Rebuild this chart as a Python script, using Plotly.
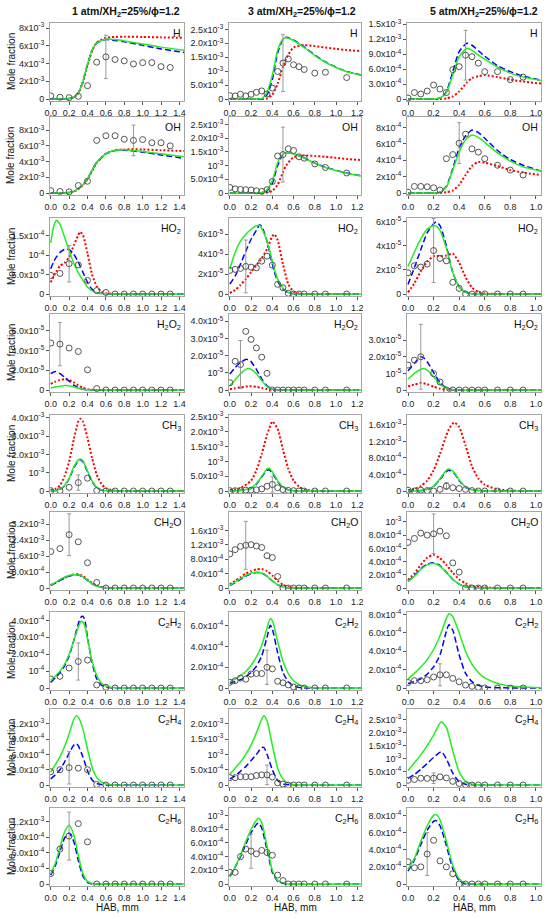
import plotly.graph_objects as go

# ---- layout in pixels (figure is 550 x 919) ----
FIG_W, FIG_H = 550, 919
COL_PX = [(50, 184), (229, 361), (407, 541)]
ROW_TOP_PX = [23, 117, 218, 314, 415, 512, 612, 709, 808]
ROW_H_PX = 78

col_titles = ["1 atm/XH<sub>2</sub>=25%/ϕ=1.2",
              "3 atm/XH<sub>2</sub>=25%/ϕ=1.2",
              "5 atm/XH<sub>2</sub>=25%/ϕ=1.2"]
species = ["H", "OH", "HO<sub>2</sub>", "H<sub>2</sub>O<sub>2</sub>", "CH<sub>3</sub>",
           "CH<sub>2</sub>O", "C<sub>2</sub>H<sub>2</sub>", "C<sub>2</sub>H<sub>4</sub>",
           "C<sub>2</sub>H<sub>6</sub>"]
x_max = [1.45, 1.235, 1.04]
x_ticks = [[0.0, 0.2, 0.4, 0.6, 0.8, 1.0, 1.2, 1.4],
           [0.0, 0.2, 0.4, 0.6, 0.8, 1.0, 1.2],
           [0.0, 0.2, 0.4, 0.6, 0.8, 1.0]]

# experimental HAB positions (mm)
exp_x_1atm = [0.0, 0.1, 0.2, 0.3, 0.4, 0.5, 0.6, 0.7, 0.8, 0.9, 1.0, 1.1, 1.2, 1.3]
exp_x_3atm = [0.0, 0.05, 0.1, 0.15, 0.2, 0.25, 0.3, 0.35, 0.4, 0.45, 0.5, 0.55, 0.6, 0.65, 0.7, 0.8, 0.9, 1.1]
exp_x_5atm = [0.0, 0.05, 0.1, 0.15, 0.2, 0.25, 0.3, 0.35, 0.4, 0.45, 0.5, 0.55, 0.6, 0.7, 0.8, 0.9]

# ================= 1 atm =================
h1_mx = [0, 0.1, 0.2, 0.25, 0.3, 0.35, 0.4, 0.45, 0.5, 0.6, 0.7, 0.8, 1.0, 1.2, 1.45]
h1_green = [0, 0, 0.05, 0.2, 0.7, 2.0, 3.9, 5.5, 6.3, 6.75, 6.7, 6.55, 6.2, 5.85, 5.5]
h1_blue = [0, 0, 0.05, 0.2, 0.7, 2.0, 3.9, 5.5, 6.3, 6.7, 6.6, 6.45, 6.05, 5.65, 5.25]
h1_red = [0, 0, 0.04, 0.18, 0.65, 1.9, 3.8, 5.4, 6.35, 6.9, 7.0, 7.02, 7.0, 6.95, 6.9]
h1_exp = [0.35, 0.2, 0.15, 0.3, 1.5, 4.15, 4.75, 4.45, 4.3, 3.95, 4.1, 4.1, 3.65, 3.55]
h1_err = (0.6, 2.45)

oh1_mx = h1_mx
oh1_green = [0, 0, 0.05, 0.2, 0.55, 1.05, 1.8, 2.9, 3.9, 5.0, 5.45, 5.5, 5.3, 5.0, 4.6]
oh1_blue = [0, 0, 0.05, 0.2, 0.55, 1.05, 1.8, 2.9, 3.9, 5.0, 5.4, 5.45, 5.2, 4.85, 4.4]
oh1_red = [0, 0, 0.04, 0.18, 0.5, 1.0, 1.75, 2.8, 3.85, 5.0, 5.45, 5.55, 5.55, 5.45, 5.35]
oh1_exp = [0.3, 0.2, 0.15, 0.95, 1.5, 6.7, 7.3, 7.3, 6.85, 6.7, 6.8, 6.4, 6.4, 6.0]
oh1_err = (0.9, 1.95)

ho2_1_mx = [0, 0.03, 0.06, 0.1, 0.15, 0.2, 0.25, 0.3, 0.32, 0.35, 0.4, 0.45, 0.5, 0.55, 0.6, 0.7, 1.45]
ho2_1_green = [1.32, 1.72, 1.9, 1.8, 1.47, 1.12, 0.8, 0.55, 0.47, 0.35, 0.18, 0.08, 0.03, 0.01, 0.005, 0, 0]
ho2_1_blue = [0.65, 0.82, 0.95, 1.07, 1.15, 1.15, 1.03, 0.82, 0.72, 0.56, 0.3, 0.12, 0.04, 0.01, 0.005, 0, 0]
ho2_1_red = [0.3, 0.45, 0.58, 0.72, 0.8, 0.95, 1.25, 1.52, 1.6, 1.52, 1.05, 0.5, 0.2, 0.06, 0.02, 0, 0]
ho2_1_exp = [0.48, 0.53, 0.78, 0.75, 0.35, 0.09, 0.04, 0, 0, 0, 0, 0, 0, 0]
ho2_1_err = (0.2, 0.47)

h2o2_1_mx = [0, 0.05, 0.1, 0.15, 0.2, 0.25, 0.3, 0.35, 0.4, 0.45, 0.5, 1.45]
h2o2_1_green = [0.2, 0.3, 0.38, 0.45, 0.42, 0.32, 0.17, 0.07, 0.02, 0.005, 0, 0]
h2o2_1_blue = [1.65, 1.87, 1.65, 1.3, 0.9, 0.5, 0.22, 0.07, 0.015, 0, 0, 0]
h2o2_1_red = [0.62, 0.85, 1.0, 1.1, 1.02, 0.78, 0.47, 0.22, 0.07, 0.015, 0, 0]
h2o2_1_exp = [4.75, 4.65, 4.25, 3.9, 2.05, 0.15, 0, 0, 0, 0, 0, 0, 0, 0]
h2o2_1_err = (0.1, 2.2)

ch3_1_mx = [0, 0.05, 0.1, 0.15, 0.2, 0.25, 0.3, 0.32, 0.35, 0.4, 0.45, 0.5, 0.55, 0.6, 0.7, 0.8, 1.45]
ch3_1_red = [0.05, 0.12, 0.3, 0.8, 1.6, 2.8, 3.8, 3.95, 3.8, 2.9, 1.8, 0.9, 0.4, 0.15, 0.02, 0, 0]
ch3_1_green = [0, 0.02, 0.1, 0.3, 0.7, 1.3, 1.7, 1.75, 1.65, 1.1, 0.55, 0.2, 0.06, 0.01, 0, 0, 0]
ch3_1_blue = [0, 0.02, 0.09, 0.28, 0.67, 1.25, 1.65, 1.7, 1.6, 1.05, 0.5, 0.18, 0.05, 0.01, 0, 0, 0]
ch3_1_exp = [0.02, 0.02, 0.2, 0.46, 0.7, 0.02, 0, 0, 0, 0, 0, 0, 0, 0]
ch3_1_err = (0.3, 0.42)

ch2o_1_mx = [0, 0.05, 0.1, 0.15, 0.2, 0.25, 0.28, 0.3, 0.35, 0.4, 0.45, 0.5, 0.55, 0.6, 0.7, 1.45]
ch2o_1_green = [0.15, 0.28, 0.42, 0.55, 0.63, 0.66, 0.67, 0.66, 0.56, 0.39, 0.22, 0.1, 0.04, 0.01, 0, 0]
ch2o_1_blue = [0.13, 0.25, 0.38, 0.5, 0.6, 0.65, 0.66, 0.65, 0.55, 0.38, 0.21, 0.1, 0.04, 0.01, 0, 0]
ch2o_1_red = [0.14, 0.26, 0.39, 0.52, 0.61, 0.68, 0.7, 0.69, 0.6, 0.43, 0.25, 0.12, 0.05, 0.015, 0, 0]
ch2o_1_exp = [1.83, 1.98, 2.68, 2.32, 1.27, 0.28, 0, 0, 0, 0, 0, 0, 0, 0]
ch2o_1_err = (0.2, 1.05)

c2h2_1_mx = [0, 0.05, 0.1, 0.15, 0.2, 0.25, 0.3, 0.33, 0.35, 0.37, 0.4, 0.45, 0.5, 0.55, 0.6, 0.65, 0.7, 0.8, 1.45]
c2h2_1_green = [0.45, 0.7, 1.0, 1.4, 2.0, 2.8, 3.6, 3.95, 3.9, 3.7, 2.9, 1.6, 0.75, 0.3, 0.12, 0.04, 0.01, 0, 0]
c2h2_1_blue = [0.35, 0.6, 0.9, 1.3, 1.9, 2.8, 3.8, 4.2, 4.25, 4.05, 3.0, 1.5, 0.55, 0.18, 0.05, 0.01, 0, 0, 0]
c2h2_1_exp = [0.53, 0.69, 1.18, 1.57, 1.65, 0.18, 0.04, 0, 0, 0, 0, 0, 0, 0]
c2h2_1_err = (0.3, 1.1)

c2h4_1_mx = [0, 0.05, 0.1, 0.15, 0.2, 0.25, 0.28, 0.3, 0.35, 0.4, 0.45, 0.5, 0.55, 0.6, 0.7, 1.45]
c2h4_1_green = [0.25, 0.4, 0.55, 0.75, 1.0, 1.28, 1.36, 1.33, 1.1, 0.7, 0.35, 0.15, 0.06, 0.02, 0, 0]
c2h4_1_blue = [0.12, 0.2, 0.3, 0.45, 0.62, 0.78, 0.81, 0.77, 0.55, 0.28, 0.1, 0.03, 0.01, 0, 0, 0]
c2h4_1_exp = [0.26, 0.3, 0.34, 0.33, 0.3, 0.01, 0, 0, 0, 0, 0, 0, 0, 0]
c2h4_1_err = (0.2, 0.32)

c2h6_1_mx = [0, 0.05, 0.1, 0.15, 0.2, 0.25, 0.3, 0.35, 0.4, 0.45, 0.5, 1.45]
c2h6_1_green = [0.2, 0.4, 0.7, 1.0, 1.13, 0.95, 0.55, 0.2, 0.05, 0.01, 0, 0]
c2h6_1_blue = [0.17, 0.35, 0.62, 0.88, 0.98, 0.82, 0.45, 0.15, 0.03, 0, 0, 0]
c2h6_1_exp = [0.2, 0.67, 0.92, 1.16, 0.81, 0, 0, 0, 0, 0, 0, 0, 0, 0]
c2h6_1_err = (0.2, 0.46)

# ================= 3 atm =================
h3_mx = [0, 0.1, 0.2, 0.3, 0.35, 0.4, 0.45, 0.5, 0.53, 0.6, 0.7, 0.8, 0.9, 1.0, 1.1, 1.235]
h3_green = [0, 0, 0, 0.02, 0.25, 0.85, 1.75, 2.15, 2.2, 2.1, 1.85, 1.56, 1.32, 1.13, 0.98, 0.85]
h3_blue = [0, 0, 0, 0.01, 0.15, 0.7, 1.65, 2.15, 2.22, 2.12, 1.87, 1.58, 1.33, 1.14, 0.99, 0.86]
h3_red = [0, 0, 0, 0, 0.02, 0.15, 0.55, 1.15, 1.45, 1.85, 1.93, 1.9, 1.85, 1.8, 1.76, 1.72]
h3_exp = [0.12, 0.11, 0.17, 0.11, 0.17, 0.24, 0.29, 0.18, 0.39, 0.99, 1.29, 1.44, 1.23, 1.16, 1.06, 0.93, 0.96, 0.77]
h3_err = (0.5, 1.02)

oh3_mx = h3_mx
oh3_green = [0, 0, 0, 0.02, 0.12, 0.45, 1.1, 1.42, 1.47, 1.42, 1.27, 1.08, 0.93, 0.82, 0.72, 0.62]
oh3_blue = [0, 0, 0, 0.01, 0.08, 0.35, 1.0, 1.4, 1.47, 1.43, 1.28, 1.09, 0.94, 0.83, 0.73, 0.63]
oh3_red = [0, 0, 0, 0, 0.01, 0.08, 0.3, 0.75, 1.0, 1.3, 1.37, 1.35, 1.32, 1.28, 1.24, 1.2]
oh3_exp = [0.2, 0.15, 0.13, 0.12, 0.11, 0.08, 0.06, 0.12, 0.42, 1.35, 1.4, 1.61, 1.55, 1.32, 1.27, 1.06, 0.93, 0.73]
oh3_err = (0.5, 1.0)

ho2_3_mx = [0, 0.05, 0.1, 0.15, 0.2, 0.25, 0.28, 0.3, 0.35, 0.4, 0.42, 0.45, 0.5, 0.55, 0.6, 0.65, 0.7, 1.235]
ho2_3_green = [2.5, 4.2, 5.3, 6.0, 6.5, 6.85, 6.9, 6.6, 5.3, 3.3, 2.5, 1.5, 0.6, 0.15, 0.03, 0, 0, 0]
ho2_3_blue = [1.0, 1.8, 3.0, 4.3, 5.5, 6.4, 6.95, 6.8, 5.3, 3.0, 2.2, 1.3, 0.5, 0.12, 0.02, 0, 0, 0]
ho2_3_red = [0.1, 0.4, 0.9, 1.5, 2.2, 2.9, 3.3, 3.6, 4.5, 5.8, 6.0, 5.4, 3.0, 1.0, 0.25, 0.05, 0, 0]
ho2_3_exp = [2.37, 2.47, 2.57, 2.77, 2.7, 2.63, 3.3, 3.8, 2.9, 0.97, 0.63, 0.07, 0, 0, 0, 0, 0, 0]
ho2_3_err = (0.15, 2.65)

h2o2_3_mx = [0, 0.05, 0.1, 0.15, 0.18, 0.2, 0.25, 0.3, 0.35, 0.4, 0.45, 0.5, 1.235]
h2o2_3_green = [0.25, 0.6, 0.95, 1.2, 1.25, 1.2, 0.95, 0.55, 0.2, 0.05, 0.01, 0, 0]
h2o2_3_blue = [0.93, 1.3, 1.6, 1.78, 1.75, 1.65, 1.2, 0.65, 0.25, 0.06, 0.01, 0, 0]
h2o2_3_red = [0.05, 0.1, 0.15, 0.2, 0.21, 0.22, 0.18, 0.12, 0.05, 0.01, 0, 0, 0]
h2o2_3_exp = [0.42, 1.67, 1.48, 3.41, 2.94, 2.45, 1.91, 0.97, 0, 0, 0, 0, 0, 0, 0, 0, 0, 0]
h2o2_3_err = (0.1, 1.4)

ch3_3_mx = [0, 0.1, 0.2, 0.25, 0.3, 0.35, 0.37, 0.4, 0.45, 0.5, 0.55, 0.6, 0.65, 0.7, 0.8, 0.9, 1.235]
ch3_3_red = [0.03, 0.1, 0.35, 0.7, 1.25, 1.9, 2.1, 2.35, 2.1, 1.4, 0.75, 0.35, 0.15, 0.05, 0.01, 0, 0]
ch3_3_green = [0, 0.02, 0.1, 0.25, 0.5, 0.75, 0.77, 0.65, 0.35, 0.13, 0.04, 0.01, 0, 0, 0, 0, 0]
ch3_3_blue = [0, 0.02, 0.09, 0.23, 0.47, 0.7, 0.72, 0.6, 0.32, 0.12, 0.04, 0.01, 0, 0, 0, 0, 0]
ch3_3_exp = [0.01, 0.01, 0.01, 0.03, 0.03, 0.04, 0.07, 0.16, 0.22, 0.11, 0.05, 0.02, 0.01, 0, 0, 0, 0, 0]
ch3_3_err = (0.4, 0.26)

ch2o_3_mx = [0, 0.05, 0.1, 0.15, 0.2, 0.25, 0.3, 0.35, 0.4, 0.45, 0.5, 0.55, 0.6, 0.7, 1.235]
ch2o_3_red = [0.1, 0.2, 0.3, 0.4, 0.47, 0.52, 0.53, 0.47, 0.35, 0.2, 0.09, 0.03, 0.01, 0, 0]
ch2o_3_green = [0.08, 0.17, 0.26, 0.35, 0.41, 0.44, 0.42, 0.33, 0.2, 0.09, 0.03, 0.01, 0, 0, 0]
ch2o_3_blue = [0.07, 0.15, 0.24, 0.33, 0.4, 0.43, 0.42, 0.33, 0.2, 0.09, 0.03, 0.01, 0, 0, 0]
ch2o_3_exp = [0.95, 1.07, 1.16, 1.19, 1.21, 1.17, 1.13, 0.9, 0.85, 0.32, 0, 0, 0, 0, 0, 0, 0, 0]
ch2o_3_err = (0.15, 0.67)

c2h2_3_mx = [0, 0.05, 0.1, 0.15, 0.2, 0.25, 0.3, 0.35, 0.38, 0.4, 0.45, 0.5, 0.55, 0.6, 0.65, 0.7, 0.8, 0.9, 1.235]
c2h2_3_green = [0.6, 0.85, 1.2, 1.6, 2.2, 3.0, 4.1, 5.8, 6.7, 6.5, 4.5, 2.6, 1.4, 0.7, 0.35, 0.15, 0.03, 0, 0]
c2h2_3_blue = [0.45, 0.6, 0.8, 1.1, 1.5, 2.1, 3.1, 4.9, 6.05, 5.7, 3.4, 1.5, 0.6, 0.2, 0.06, 0.01, 0, 0, 0]
c2h2_3_exp = [0.55, 0.7, 0.95, 0.85, 1.35, 1.4, 1.4, 2.0, 1.85, 0.65, 0.5, 0.3, 0.1, 0, 0, 0, 0, 0]
c2h2_3_err = (0.35, 1.65)

c2h4_3_mx = [0, 0.05, 0.1, 0.15, 0.2, 0.25, 0.3, 0.32, 0.35, 0.4, 0.45, 0.5, 0.55, 0.6, 0.7, 1.235]
c2h4_3_green = [0.35, 0.55, 0.75, 1.0, 1.3, 1.7, 2.15, 2.26, 2.1, 1.3, 0.55, 0.2, 0.06, 0.02, 0, 0]
c2h4_3_blue = [0.2, 0.3, 0.45, 0.6, 0.8, 1.0, 1.22, 1.23, 1.0, 0.5, 0.15, 0.04, 0.01, 0, 0, 0]
c2h4_3_exp = [0.24, 0.24, 0.27, 0.27, 0.27, 0.31, 0.33, 0.33, 0.26, 0.07, 0.03, 0, 0, 0, 0, 0, 0, 0]
c2h4_3_err = (0.35, 0.32)

c2h6_3_mx = [0, 0.05, 0.1, 0.15, 0.2, 0.25, 0.27, 0.3, 0.35, 0.4, 0.45, 0.5, 0.55, 1.235]
c2h6_3_green = [0.1, 0.25, 0.42, 0.62, 0.8, 0.93, 0.96, 0.9, 0.55, 0.2, 0.05, 0.01, 0, 0]
c2h6_3_blue = [0.12, 0.25, 0.4, 0.58, 0.75, 0.87, 0.89, 0.82, 0.5, 0.17, 0.04, 0.01, 0, 0]
c2h6_3_exp = [0.17, 0.17, 0.4, 0.51, 0.48, 0.44, 0.49, 0.46, 0.42, 0.13, 0.05, 0, 0, 0, 0, 0, 0, 0]
c2h6_3_err = (0.2, 0.25)

# ================= 5 atm =================
h5_mx = [0, 0.1, 0.2, 0.25, 0.3, 0.35, 0.4, 0.46, 0.5, 0.55, 0.6, 0.7, 0.8, 0.9, 1.04]
h5_blue = [0, 0, 0, 0.02, 0.15, 0.55, 0.95, 1.12, 1.08, 0.97, 0.86, 0.67, 0.55, 0.46, 0.38]
h5_green = [0, 0, 0, 0.02, 0.13, 0.48, 0.85, 1.02, 0.98, 0.88, 0.8, 0.64, 0.52, 0.44, 0.37]
h5_red = [0, 0, 0, 0, 0.01, 0.05, 0.15, 0.33, 0.42, 0.46, 0.48, 0.44, 0.39, 0.35, 0.31]
h5_exp = [0.02, 0.13, 0.10, 0.16, 0.28, 0.2, 0.13, 0.59, 0.65, 0.88, 0.85, 0.72, 0.55, 0.55, 0.39, 0.44]
h5_err = (0.45, 0.5)

oh5_mx = [0, 0.1, 0.2, 0.25, 0.3, 0.35, 0.4, 0.45, 0.5, 0.55, 0.6, 0.7, 0.8, 0.9, 1.04]
oh5_blue = [0, 0, 0, 0.01, 0.08, 0.3, 0.55, 0.7, 0.77, 0.74, 0.67, 0.52, 0.41, 0.34, 0.27]
oh5_green = [0, 0, 0, 0.01, 0.07, 0.28, 0.5, 0.65, 0.71, 0.68, 0.62, 0.49, 0.39, 0.32, 0.27]
oh5_red = [0, 0, 0, 0, 0.01, 0.03, 0.1, 0.22, 0.33, 0.38, 0.37, 0.33, 0.28, 0.25, 0.22]
oh5_exp = [0.01, 0.08, 0.08, 0.076, 0.064, 0.036, 0.42, 0.47, 0.61, 0.72, 0.54, 0.5, 0.42, 0.34, 0.28, 0.22]
oh5_err = (0.4, 0.25)

ho2_5_mx = [0, 0.05, 0.1, 0.15, 0.2, 0.22, 0.25, 0.3, 0.35, 0.4, 0.45, 0.5, 0.55, 0.6, 0.7, 1.04]
ho2_5_green = [2.3, 3.5, 4.6, 5.4, 5.7, 5.65, 5.3, 3.8, 1.8, 0.6, 0.15, 0.03, 0, 0, 0, 0]
ho2_5_blue = [0.8, 2.2, 3.7, 5.1, 5.85, 6.0, 5.7, 4.0, 1.8, 0.6, 0.15, 0.03, 0, 0, 0, 0]
ho2_5_red = [0.14, 0.9, 1.9, 2.7, 3.15, 3.18, 3.15, 3.2, 3.35, 2.6, 1.4, 0.55, 0.15, 0.04, 0, 0]
ho2_5_exp = [1.77, 2.35, 2.24, 2.49, 3.62, 2.96, 2.76, 0.97, 0.47, 0, 0, 0, 0, 0, 0, 0]
ho2_5_err = (0.2, 2.67)

h2o2_5_mx = [0, 0.05, 0.1, 0.12, 0.15, 0.2, 0.25, 0.3, 0.35, 0.4, 1.04]
h2o2_5_blue = [1.15, 1.6, 2.0, 1.95, 1.7, 1.05, 0.45, 0.12, 0.02, 0, 0]
h2o2_5_green = [0.65, 1.0, 1.25, 1.3, 1.2, 0.8, 0.35, 0.1, 0.02, 0, 0]
h2o2_5_red = [0.22, 0.33, 0.42, 0.41, 0.35, 0.2, 0.08, 0.02, 0, 0, 0]
h2o2_5_exp = [1.5, 1.8, 2.0, None, 0.98, 0.48, 0, 0, 0, 0, 0, 0, 0, 0, 0, 0]
h2o2_5_err = (0.1, 1.95)

ch3_5_mx = [0, 0.05, 0.1, 0.15, 0.2, 0.25, 0.3, 0.32, 0.36, 0.4, 0.45, 0.5, 0.55, 0.6, 0.7, 0.8, 0.9, 1.04]
ch3_5_red = [0.02, 0.05, 0.12, 0.25, 0.5, 0.9, 1.35, 1.5, 1.66, 1.55, 1.1, 0.6, 0.3, 0.15, 0.04, 0.01, 0, 0]
ch3_5_green = [0, 0, 0.01, 0.04, 0.12, 0.3, 0.5, 0.53, 0.45, 0.27, 0.1, 0.03, 0.01, 0, 0, 0, 0, 0]
ch3_5_blue = [0, 0, 0.01, 0.04, 0.11, 0.28, 0.47, 0.5, 0.43, 0.25, 0.09, 0.03, 0.01, 0, 0, 0, 0, 0]
ch3_5_exp = [0.02, 0, 0.02, 0.01, 0, 0.04, 0.12, 0.08, 0.06, 0.04, 0.01, 0, 0, 0, 0, 0]
ch3_5_err = (0.3, 0.08)

ch2o_5_mx = [0, 0.05, 0.1, 0.15, 0.2, 0.25, 0.3, 0.35, 0.4, 0.45, 0.5, 0.6, 0.7, 1.04]
ch2o_5_red = [0.12, 0.22, 0.35, 0.46, 0.5, 0.45, 0.35, 0.23, 0.13, 0.07, 0.03, 0.01, 0, 0]
ch2o_5_green = [0.1, 0.18, 0.28, 0.35, 0.37, 0.33, 0.23, 0.13, 0.06, 0.02, 0.01, 0, 0, 0]
ch2o_5_blue = [0.1, 0.19, 0.29, 0.36, 0.38, 0.34, 0.24, 0.13, 0.06, 0.02, 0.01, 0, 0, 0]
ch2o_5_exp = [0.69, 0.75, 0.83, 0.8, 0.82, 0.86, 0.79, 0.38, 0.24, 0, 0, 0, 0, 0, 0, 0]
ch2o_5_err = (0.2, 0.3)

c2h2_5_mx = [0, 0.05, 0.1, 0.15, 0.2, 0.25, 0.3, 0.32, 0.35, 0.4, 0.45, 0.5, 0.55, 0.6, 0.7, 0.8, 0.9, 1.04]
c2h2_5_green = [1.0, 1.6, 2.3, 3.1, 4.2, 5.7, 7.6, 8.1, 7.8, 6.0, 4.0, 2.6, 1.7, 1.1, 0.5, 0.22, 0.1, 0.04]
c2h2_5_blue = [0.5, 0.7, 1.0, 1.5, 2.3, 3.6, 6.2, 6.9, 6.3, 3.6, 1.6, 0.7, 0.3, 0.12, 0.03, 0.01, 0, 0]
c2h2_5_exp = [0.6, 0.8, 0.8, 0.9, 1.2, 1.44, 1.44, 1.05, 0.68, 0.32, 0.18, 0.07, 0, 0, 0, 0]
c2h2_5_err = (0.25, 1.2)

c2h4_5_mx = [0, 0.05, 0.1, 0.15, 0.2, 0.26, 0.3, 0.35, 0.4, 0.45, 0.5, 0.55, 0.6, 1.04]
c2h4_5_green = [0.55, 0.85, 1.15, 1.5, 1.9, 2.41, 2.2, 1.3, 0.5, 0.15, 0.04, 0.01, 0, 0]
c2h4_5_blue = [0.25, 0.4, 0.6, 0.82, 1.05, 1.27, 1.0, 0.45, 0.12, 0.03, 0.01, 0, 0, 0]
c2h4_5_exp = [0.18, 0.21, 0.26, 0.25, 0.26, 0.31, 0.27, 0.14, 0.06, 0.01, 0, 0, 0, 0, 0, 0]
c2h4_5_err = (0.2, 0.2)

c2h6_5_mx = [0, 0.05, 0.1, 0.15, 0.2, 0.22, 0.25, 0.3, 0.35, 0.4, 0.45, 0.5, 1.04]
c2h6_5_green = [0.17, 0.3, 0.5, 0.68, 0.8, 0.81, 0.75, 0.5, 0.22, 0.06, 0.01, 0, 0]
c2h6_5_blue = [0.15, 0.28, 0.46, 0.63, 0.73, 0.74, 0.68, 0.45, 0.18, 0.04, 0, 0, 0]
c2h6_5_exp = [0.26, 0.19, 0.2, 0.35, 0.51, 0.27, 0.2, 0.12, 0, 0, 0, 0, 0, 0, 0, 0]
c2h6_5_err = (0.15, 0.25)

# y axis: top of range and tick labels, in the panel's unit
y_tops = [[8.57, 9.68, 1.96, 7.7, 4.15, 3.82, 4.5, 1.49, 1.46],
          [2.73, 2.77, 7.63, 4.42, 2.57, 2.12, 7.34, 2.48, 1.11],
          [1.527, 0.93, 6.33, 4.57, 1.84, 1.15, 8.29, 2.9, 0.887]]
units = [1e-3, 1e-3, 1e-4, 1e-5, 1e-3, 1e-3, 1e-4, 1e-3, 1e-3]
units_5 = [1e-3, 1e-3, 1e-5, 1e-5, 1e-3, 1e-3, 1e-4, 1e-3, 1e-3]

yt_1 = [[0, 2, 4, 6, 8], [0, 2, 4, 6, 8], [0, 0.5, 1, 1.5], [0, 2, 4, 6], [0, 1, 2, 3, 4],
        [0, 0.8, 1.6, 2.4, 3.2], [0, 1, 2, 3, 4], [0, 0.3, 0.6, 0.9, 1.2], [0, 0.3, 0.6, 0.9, 1.2]]
ytxt_1 = [["0", "2x10^-3", "4x10^-3", "6x10^-3", "8x10^-3"],
          ["0", "2x10^-3", "4x10^-3", "6x10^-3", "8x10^-3"],
          ["0", "5.0x10^-5", "10^-4", "1.5x10^-4"],
          ["0", "2.0x10^-5", "4.0x10^-5", "6.0x10^-5"],
          ["0", "10^-3", "2.0x10^-3", "3.0x10^-3", "4.0x10^-3"],
          ["0", "8.0x10^-4", "1.6x10^-3", "2.4x10^-3", "3.2x10^-3"],
          ["0", "10^-4", "2.0x10^-4", "3.0x10^-4", "4.0x10^-4"],
          ["0", "3.0x10^-4", "6.0x10^-4", "9.0x10^-4", "1.2x10^-3"],
          ["0", "3.0x10^-4", "6.0x10^-4", "9.0x10^-4", "1.2x10^-3"]]
yt_3 = [[0, 0.5, 1, 1.5, 2, 2.5], [0, 0.5, 1, 1.5, 2, 2.5], [0, 2, 4, 6], [0, 1, 2, 3, 4],
        [0, 0.5, 1, 1.5, 2, 2.5], [0, 0.4, 0.8, 1.2, 1.6], [0, 2, 4, 6], [0, 0.5, 1, 1.5, 2],
        [0, 0.2, 0.4, 0.6, 0.8, 1.0]]
ytxt_3 = [["0", "5.0x10^-4", "10^-3", "1.5x10^-3", "2.0x10^-3", "2.5x10^-3"],
          ["0", "5.0x10^-4", "10^-3", "1.5x10^-3", "2.0x10^-3", "2.5x10^-3"],
          ["0", "2x10^-5", "4x10^-5", "6x10^-5"],
          ["0", "10^-5", "2.0x10^-5", "3.0x10^-5", "4.0x10^-5"],
          ["0", "5.0x10^-3", "10^-3", "1.5x10^-3", "2.0x10^-3", "2.5x10^-3"],
          ["0", "4.0x10^-4", "8.0x10^-4", "1.2x10^-3", "1.6x10^-3"],
          ["0", "2.0x10^-4", "4.0x10^-4", "6.0x10^-4"],
          ["0", "5.0x10^-4", "10^-3", "1.5x10^-3", "2.0x10^-3"],
          ["0", "2.0x10^-4", "4.0x10^-4", "6.0x10^-4", "8.0x10^-4", "10^-3"]]
yt_5 = [[0, 0.3, 0.6, 0.9, 1.2, 1.5], [0, 0.2, 0.4, 0.6, 0.8], [0, 2, 4, 6], [0, 1, 2, 3],
        [0, 0.4, 0.8, 1.2, 1.6], [0, 0.2, 0.4, 0.6, 0.8, 1.0], [0, 2, 4, 6, 8],
        [0, 0.5, 1, 1.5, 2, 2.5], [0, 0.2, 0.4, 0.6, 0.8]]
ytxt_5 = [["0", "3.0x10^-4", "6.0x10^-4", "9.0x10^-4", "1.2x10^-3", "1.5x10^-3"],
          ["0", "2x10^-4", "4x10^-4", "6x10^-4", "8x10^-4"],
          ["0", "2x10^-5", "4x10^-5", "6x10^-5"],
          ["0", "10^-5", "2.0x10^-5", "3.0x10^-5"],
          ["0", "4.0x10^-4", "8.0x10^-4", "1.2x10^-3", "1.6x10^-3"],
          ["0", "2.0x10^-4", "4.0x10^-4", "6.0x10^-4", "8.0x10^-4", "10^-3"],
          ["0", "2.0x10^-4", "4.0x10^-4", "6.0x10^-4", "8.0x10^-4"],
          ["0", "5.0x10^-4", "10^-3", "1.5x10^-3", "2.0x10^-3", "2.5x10^-3"],
          ["0", "2.0x10^-4", "4.0x10^-4", "6.0x10^-4", "8.0x10^-4"]]

# ---- assemble per-panel tables: (mx, green, blue, red, exp, err) ----
cols = [
    [(h1_mx, h1_green, h1_blue, h1_red, h1_exp, h1_err),
     (oh1_mx, oh1_green, oh1_blue, oh1_red, oh1_exp, oh1_err),
     (ho2_1_mx, ho2_1_green, ho2_1_blue, ho2_1_red, ho2_1_exp, ho2_1_err),
     (h2o2_1_mx, h2o2_1_green, h2o2_1_blue, h2o2_1_red, h2o2_1_exp, h2o2_1_err),
     (ch3_1_mx, ch3_1_green, ch3_1_blue, ch3_1_red, ch3_1_exp, ch3_1_err),
     (ch2o_1_mx, ch2o_1_green, ch2o_1_blue, ch2o_1_red, ch2o_1_exp, ch2o_1_err),
     (c2h2_1_mx, c2h2_1_green, c2h2_1_blue, None, c2h2_1_exp, c2h2_1_err),
     (c2h4_1_mx, c2h4_1_green, c2h4_1_blue, None, c2h4_1_exp, c2h4_1_err),
     (c2h6_1_mx, c2h6_1_green, c2h6_1_blue, None, c2h6_1_exp, c2h6_1_err)],
    [(h3_mx, h3_green, h3_blue, h3_red, h3_exp, h3_err),
     (oh3_mx, oh3_green, oh3_blue, oh3_red, oh3_exp, oh3_err),
     (ho2_3_mx, ho2_3_green, ho2_3_blue, ho2_3_red, ho2_3_exp, ho2_3_err),
     (h2o2_3_mx, h2o2_3_green, h2o2_3_blue, h2o2_3_red, h2o2_3_exp, h2o2_3_err),
     (ch3_3_mx, ch3_3_green, ch3_3_blue, ch3_3_red, ch3_3_exp, ch3_3_err),
     (ch2o_3_mx, ch2o_3_green, ch2o_3_blue, ch2o_3_red, ch2o_3_exp, ch2o_3_err),
     (c2h2_3_mx, c2h2_3_green, c2h2_3_blue, None, c2h2_3_exp, c2h2_3_err),
     (c2h4_3_mx, c2h4_3_green, c2h4_3_blue, None, c2h4_3_exp, c2h4_3_err),
     (c2h6_3_mx, c2h6_3_green, c2h6_3_blue, None, c2h6_3_exp, c2h6_3_err)],
    [(h5_mx, h5_green, h5_blue, h5_red, h5_exp, h5_err),
     (oh5_mx, oh5_green, oh5_blue, oh5_red, oh5_exp, oh5_err),
     (ho2_5_mx, ho2_5_green, ho2_5_blue, ho2_5_red, ho2_5_exp, ho2_5_err),
     (h2o2_5_mx, h2o2_5_green, h2o2_5_blue, h2o2_5_red, h2o2_5_exp, h2o2_5_err),
     (ch3_5_mx, ch3_5_green, ch3_5_blue, ch3_5_red, ch3_5_exp, ch3_5_err),
     (ch2o_5_mx, ch2o_5_green, ch2o_5_blue, ch2o_5_red, ch2o_5_exp, ch2o_5_err),
     (c2h2_5_mx, c2h2_5_green, c2h2_5_blue, None, c2h2_5_exp, c2h2_5_err),
     (c2h4_5_mx, c2h4_5_green, c2h4_5_blue, None, c2h4_5_exp, c2h4_5_err),
     (c2h6_5_mx, c2h6_5_green, c2h6_5_blue, None, c2h6_5_exp, c2h6_5_err)],
]
exp_xs = [exp_x_1atm, exp_x_3atm, exp_x_5atm]
col_units = [units, units, units_5]
col_yt = [yt_1, yt_3, yt_5]
col_ytxt = [ytxt_1, ytxt_3, ytxt_5]

FONT = "Liberation Sans, Arial, sans-serif"
FRAME = "#a6a6a6"
GREEN = "#22ee22"
BLUE = "#0000ff"
RED = "#ff0000"
EXP = "#555555"


def sup(s):
    if "^" in s:
        a, b = s.split("^")
        return a + "<sup>" + b + "</sup>"
    return s


fig = go.Figure()
annotations = []

for c in range(3):
    for r in range(9):
        i = c * 9 + r + 1
        xa = "x" if i == 1 else "x%d" % i
        ya = "y" if i == 1 else "y%d" % i
        mx, green, blue, red, ey, err = cols[c][r]
        u = col_units[c][r]
        scale = lambda v: [None if a is None else a * u for a in v]

        if red is not None:
            fig.add_trace(go.Scatter(x=mx, y=scale(red), mode="lines", xaxis=xa, yaxis=ya,
                                     line=dict(color=RED, width=2, dash="2px,2px", shape="spline", smoothing=0.6),
                                     showlegend=False, hoverinfo="skip"))
        fig.add_trace(go.Scatter(x=mx, y=scale(blue), mode="lines", xaxis=xa, yaxis=ya,
                                 line=dict(color=BLUE, width=1.5, dash="6px,3px", shape="spline", smoothing=0.6),
                                 showlegend=False, hoverinfo="skip"))
        fig.add_trace(go.Scatter(x=mx, y=scale(green), mode="lines", xaxis=xa, yaxis=ya,
                                 line=dict(color=GREEN, width=1.5, shape="spline", smoothing=0.6),
                                 showlegend=False, hoverinfo="skip"))
        # error bar on one point
        ex = exp_xs[c]
        k = min(range(len(ex)), key=lambda j: abs(ex[j] - err[0]))
        fig.add_trace(go.Scatter(x=[ex[k]], y=[ey[k] * u], mode="markers", xaxis=xa, yaxis=ya,
                                 marker=dict(size=1, color="rgba(0,0,0,0)"),
                                 error_y=dict(type="data", array=[err[1] * u], color="#999999",
                                              thickness=1, width=2),
                                 showlegend=False, hoverinfo="skip"))
        fig.add_trace(go.Scatter(x=ex, y=scale(ey), mode="markers", xaxis=xa, yaxis=ya,
                                 marker=dict(symbol="circle-open", size=6, color=EXP,
                                             line=dict(width=1, color=EXP)),
                                 showlegend=False, hoverinfo="skip"))

        x0, x1 = COL_PX[c]
        top_px = ROW_TOP_PX[r]
        bot_px = top_px + ROW_H_PX
        hi = y_tops[c][r] * u
        lo = -hi * 2.0 / (ROW_H_PX - 2)
        axis_common = dict(showline=True, mirror=True, linecolor=FRAME, linewidth=1,
                           showgrid=False, zeroline=False, ticks="outside", ticklen=3,
                           automargin=False,
                           tickcolor="#555555", tickfont=dict(size=9, color="#222222", family=FONT))
        fig.update_layout(**{
            ("xaxis" if i == 1 else "xaxis%d" % i): dict(
                domain=[x0 / FIG_W, x1 / FIG_W], anchor=ya, range=[-0.008, x_max[c]],
                tickvals=x_ticks[c], ticktext=["%.1f" % t for t in x_ticks[c]], **axis_common),
            ("yaxis" if i == 1 else "yaxis%d" % i): dict(
                domain=[1 - bot_px / FIG_H, 1 - top_px / FIG_H], anchor=xa, range=[lo, hi],
                tickvals=[t * u for t in col_yt[c][r]],
                ticktext=[sup(s) for s in col_ytxt[c][r]], **axis_common),
        })
        annotations.append(dict(text=species[r], xref=xa + " domain", yref=ya + " domain",
                                x=1, y=1, xanchor="right", yanchor="top", xshift=-1, yshift=-2,
                                showarrow=False, font=dict(size=10.5, color="#111111", family=FONT)))
        if c == 0:
            annotations.append(dict(text="Mole fraction", xref="paper", yref="paper",
                                    x=11 / FIG_W, y=1 - (top_px + ROW_H_PX / 2) / FIG_H,
                                    xanchor="center", yanchor="middle",
                                    textangle=-90, showarrow=False,
                                    font=dict(size=10, color="#111111", family=FONT)))

title_x_px = [126, 302, 484]
for c in range(3):
    annotations.append(dict(text="<b>" + col_titles[c] + "</b>", xref="paper", yref="paper",
                            x=title_x_px[c] / FIG_W, y=1 - 12 / FIG_H, showarrow=False,
                            xanchor="center", yanchor="middle",
                            font=dict(size=10.5, color="#111111", family=FONT)))
    annotations.append(dict(text="HAB, mm", xref="paper", yref="paper",
                            x=sum(COL_PX[c]) / 2 / FIG_W, y=1 - 907 / FIG_H, showarrow=False,
                            xanchor="center", yanchor="middle",
                            font=dict(size=10, color="#111111", family=FONT)))

fig.update_layout(width=FIG_W, height=FIG_H,
                  margin=dict(l=0, r=0, t=0, b=0, pad=0, autoexpand=False),
                  paper_bgcolor="white", plot_bgcolor="white", showlegend=False,
                  annotations=annotations, font=dict(family=FONT))

# the page's default body margin would push the fixed-size figure off the window
fig.write_html("out.html", config={"displayModeBar": False},
               post_script="document.body.style.margin='0';document.body.style.overflow='hidden';")
